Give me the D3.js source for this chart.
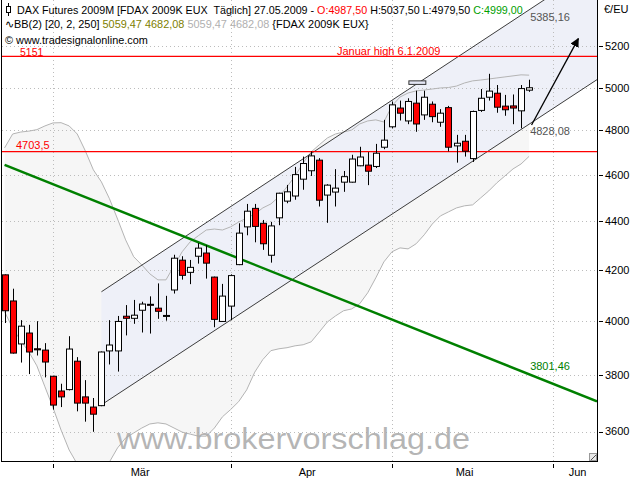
<!DOCTYPE html>
<html><head><meta charset="utf-8">
<script src="https://cdn.jsdelivr.net/npm/d3@7"></script>
<style>
body{margin:0;background:#fff}
svg{display:block}
text{font-family:"Liberation Sans",Arial,sans-serif;white-space:pre}
</style>
</head><body>
<svg id="c" width="640" height="480"></svg>
<script>
// ---------- DATA ----------
const dates = ["20.02","23.02","24.02","25.02","26.02","27.02",
 "02.03","03.03","04.03","05.03","06.03","09.03","10.03","11.03","12.03","13.03","16.03","17.03","18.03","19.03","20.03","23.03","24.03","25.03","26.03","27.03","30.03","31.03",
 "01.04","02.04","03.04","06.04","07.04","08.04","09.04","14.04","15.04","16.04","17.04","20.04","21.04","22.04","23.04","24.04","27.04","28.04","29.04","30.04",
 "04.05","05.05","06.05","07.05","08.05","11.05","12.05","13.05","14.05","15.05","18.05","19.05","20.05","21.05","22.05","25.05","26.05","27.05"];
const opens  = [4181,4078,3914,3955,3896,3891,3795,3742,3747,3850,3721,3685,3690,3888,3888,4019,4011,4042,4065,4050,4019,4121,4240,4191,4256,4269,4172,3999,4058,4222,4377,4455,4392,4260,4415,4486,4508,4581,4618,4665,4512,4525,4568,4568,4640,4643,4637,4723,4816,4903,4843,4926,4871,4921,4837,4905,4729,4750,4672,4892,4954,4973,4912,4913,4890,4987.5];
const highs  = [4183,4126,4004,3986,4000,3917,3797,3768,3943,3865,3781,3717,3886,4004,4020,4062,4082,4075,4096,4147,4098,4262,4256,4241,4310,4301,4174,4145,4183,4392,4474,4474,4406,4398,4522,4556,4635,4681,4704,4674,4559,4625,4617,4689,4725,4701,4738,4848,4934,4938,4949,4985,4985,4934,4898,4913,4779,4779,4891,4993,5066,5012,4965,4967,5012,5037.5];
const lows   = [3993,3878,3845,3803,3871,3791,3676,3685,3744,3670,3634,3599,3688,3838,3812,3946,3990,3957,3953,4009,4002,4107,4162,4144,4226,4166,3977,3997,4004,4220,4342,4313,4282,4230,4384,4477,4492,4535,4595,4463,4394,4463,4526,4566,4638,4555,4630,4714,4809,4845,4828,4793,4848,4837,4816,4704,4654,4681,4657,4885,4938,4881,4867,4828,4809,4979.5];
const closes = [4040,3880,3981,3884,3892,3847,3692,3721,3895,3699,3699,3660,3884,3910,3999,4011,4023,4066,4063,4038,4022,4248,4179,4211,4289,4228,4007,4097,4178,4351,4443,4379,4307,4381,4520,4526,4601,4650,4684,4490,4555,4542,4592,4670,4679,4616,4696,4755,4918,4879,4934,4829,4954,4863,4879,4723,4741,4705,4887,4949,4983,4907,4895,4903,4995,4999];
const bbUpper = [4720,4783,4792,4796,4803,4820,4834,4835,4820,4783,4707,4622,4569,4496,4410,4323,4254,4221,4185,4161,4161,4217,4274,4315,4340,4364,4368,4364,4377,4397,4414,4431,4457,4474,4505,4548,4595,4653,4702,4734,4765,4783,4792,4801,4829,4843,4848,4838,4913,4955,4974,4984,4988,4993,4998,5000,5007,5022,5032,5036,5041,5046,5051,5056,5061,5059.47];
const bbLower = [4036,3974,3926,3885,3833,3757,3683,3605,3537,3490,3463,3457,3470,3497,3544,3578,3595,3612,3626,3630,3626,3612,3598,3591,3584,3584,3612,3651,3676,3704,3746,3810,3856,3889,3896,3900,3907,3911,3922,3959,3997,4020,4040,4047,4067,4110,4169,4233,4274,4290,4286,4307,4344,4389,4423,4440,4457,4466,4470,4500,4530,4565,4595,4626,4648,4682.08];
const yTicks = [3600,3800,4000,4200,4400,4600,4800,5000,5200];
const monthNames = ["Mär","Apr","Mai","Jun"];
const monthTickBar = [6,28,48,68];        // bar position of first trading day
const monthLabelBar = [16.8,37.5,57,71];  // bar position of month label
// drawing objects (bar position, price)
const channelUpper = [[12,4114],[65,5385.16]];
const channelLower = [[12,3693],[65,4828.08]];
const greenLine = [[0,4644],[73.4,3705]];
const arrowPts = [[65.3,4824],[71.1,5239]];
const boxObj = [[50.1,5015],[52.2,5032]];
const hLevels = [{v:5151,label:"5151",text:"Januar high 6.1.2009"},{v:4703.5,label:"4703,5",text:""}];

// ---------- SCALES ----------
const P = {l:2, r:597, t:0, b:461};
const svg = d3.select("#c");
const x = d3.scaleLinear().domain([-0.32, 73.41]).range([P.l, P.r]);
const y = d3.scaleLog().domain([3500, 5436]).range([P.b, P.t]);
const data = dates.map((d,i)=>({d,i,o:opens[i],h:highs[i],l:lows[i],c:closes[i],u:bbUpper[i],lo:bbLower[i]}));

svg.append("rect").attr("width",640).attr("height",480).attr("fill","#fff");
const defs = svg.append("defs");
defs.append("clipPath").attr("id","clip").append("rect")
  .attr("x",P.l).attr("y",P.t).attr("width",P.r-P.l).attr("height",P.b-P.t);
defs.append("marker").attr("id","ah").attr("viewBox","0 0 10 10").attr("refX",9).attr("refY",5)
  .attr("markerWidth",9).attr("markerHeight",9).attr("orient","auto").attr("markerUnits","userSpaceOnUse")
  .append("path").attr("d","M0,0 L10,5 L0,10 Z").attr("fill","#000");

const g = svg.append("g").attr("clip-path","url(#clip)");

// Bollinger fill
g.append("path").datum(data)
  .attr("d", d3.area().x(d=>x(d.i)).y0(d=>y(d.lo)).y1(d=>y(d.u)))
  .attr("fill","#f6f6f6");

// channel fill
function extend(pts){
  const a=[x(pts[0][0]),y(pts[0][1])], b=[x(pts[1][0]),y(pts[1][1])];
  const s=(b[1]-a[1])/(b[0]-a[0]);
  return [a,[P.r, b[1]+s*(P.r-b[0])]];
}
const U = extend(channelUpper), L = extend(channelLower);
g.append("path").attr("d","M"+[U[0],U[1],L[1],L[0]].join("L")+"Z").attr("fill","#eef0f8");

// grid
g.selectAll(".hg").data(yTicks).join("line")
  .attr("x1",P.l).attr("x2",P.r).attr("y1",d=>Math.round(y(d))+0.5).attr("y2",d=>Math.round(y(d))+0.5)
  .attr("stroke","#bcbcbc").attr("stroke-dasharray","1,3");
g.selectAll(".vg").data(monthTickBar).join("line")
  .attr("x1",d=>Math.round(x(d))+0.5).attr("x2",d=>Math.round(x(d))+0.5).attr("y1",P.t).attr("y2",P.b)
  .attr("stroke","#bcbcbc").attr("stroke-dasharray","1,3");

// Bollinger lines
g.append("path").datum(data).attr("d", d3.line().x(d=>x(d.i)).y(d=>y(d.u))).attr("fill","none").attr("stroke","#b4b4b4");
g.append("path").datum(data).attr("d", d3.line().x(d=>x(d.i)).y(d=>y(d.lo))).attr("fill","none").attr("stroke","#b4b4b4");

// channel lines
[U,L].forEach(s=>g.append("line").attr("x1",s[0][0]).attr("y1",s[0][1]).attr("x2",s[1][0]).attr("y2",s[1][1])
  .attr("stroke","#3c3c3c").attr("stroke-width",1));

// horizontal levels
hLevels.forEach(h=>{
  const yy=y(h.v);
  g.append("line").attr("x1",P.l).attr("x2",P.r).attr("y1",yy).attr("y2",yy)
    .attr("stroke","#ff0000").attr("stroke-width",1.3);
});

// green trend line
g.append("line").attr("x1",x(greenLine[0][0])).attr("y1",y(greenLine[0][1]))
  .attr("x2",x(greenLine[1][0])).attr("y2",y(greenLine[1][1]))
  .attr("stroke","#008000").attr("stroke-width",2.5);

// box object
g.append("rect").attr("x",x(boxObj[0][0])).attr("y",y(boxObj[1][1]))
  .attr("width",x(boxObj[1][0])-x(boxObj[0][0])).attr("height",y(boxObj[0][1])-y(boxObj[1][1]))
  .attr("fill","#e4e6f4").attr("stroke","#333").attr("stroke-width",1);

// candles
const cg = g.append("g");
data.forEach(d=>{
  const cx=Math.round(x(d.i))+0.5;
  cg.append("line").attr("x1",cx).attr("x2",cx).attr("y1",y(d.h)).attr("y2",y(d.l)).attr("stroke","#000");
  const top=y(Math.max(d.o,d.c)), bot=y(Math.min(d.o,d.c));
  cg.append("rect").attr("x",cx-3).attr("y",top).attr("width",6).attr("height",Math.max(1,bot-top))
    .attr("fill",d.c<d.o?"#ff0000":"#ffffff").attr("stroke","#000").attr("stroke-width",1);
});

// arrow
g.append("line").attr("x1",x(arrowPts[0][0])).attr("y1",y(arrowPts[0][1]))
  .attr("x2",x(arrowPts[1][0])).attr("y2",y(arrowPts[1][1]))
  .attr("stroke","#000").attr("stroke-width",1.3).attr("marker-end","url(#ah)");

// object labels
const last = dates.length-1;
svg.append("text").attr("x",x(last)+1).attr("y",y(channelUpper[1][1])+11).text("5385,16")
  .attr("font-size",11).attr("fill","#555");
svg.append("text").attr("x",x(last)+1).attr("y",y(channelLower[1][1])+11).text("4828,08")
  .attr("font-size",11).attr("fill","#555");
const gAt = greenLine[0][1]*Math.pow(greenLine[1][1]/greenLine[0][1],(last-greenLine[0][0])/(greenLine[1][0]-greenLine[0][0]));
svg.append("text").attr("x",x(last)+1).attr("y",y(gAt)-4).text("3801,46")
  .attr("font-size",11).attr("fill","#008000");
svg.append("text").attr("x",20).attr("y",y(hLevels[0].v)).text(hLevels[0].label).attr("font-size",10.5).attr("fill","#ff0000");
svg.append("text").attr("x",337).attr("y",y(hLevels[0].v)-1.5).text(hLevels[0].text).attr("font-size",11).attr("fill","#ff0000");
svg.append("text").attr("x",16).attr("y",y(hLevels[1].v)-2.5).text(hLevels[1].label).attr("font-size",11).attr("fill","#ff0000");

// watermark
svg.append("text").attr("x",117).attr("y",449).text("www.brokervorschlag.de")
  .attr("font-size",30).attr("fill","#a8a8a8").attr("fill-opacity",0.85)
  .attr("textLength",353).attr("lengthAdjust","spacingAndGlyphs");

// borders / axes
svg.append("line").attr("x1",1.5).attr("x2",1.5).attr("y1",0).attr("y2",P.b).attr("stroke","#000");
svg.append("line").attr("x1",P.r+0.5).attr("x2",P.r+0.5).attr("y1",0).attr("y2",P.b+1).attr("stroke","#000");
svg.append("line").attr("x1",1).attr("x2",P.r+1).attr("y1",P.b+0.5).attr("y2",P.b+0.5).attr("stroke","#000");
svg.append("rect").attr("x",P.r-7.5).attr("y",P.b-7.5).attr("width",7).attr("height",7).attr("fill","#e8e8e8").attr("stroke","#999");
svg.append("line").attr("x1",P.r-6).attr("y1",P.b-1).attr("x2",P.r-1).attr("y2",P.b-6).attr("stroke","#555");

// right axis
const ra = svg.append("g");
ra.selectAll("line").data(yTicks).join("line")
  .attr("x1",P.r+2).attr("x2",P.r+6).attr("y1",d=>Math.round(y(d))+0.5).attr("y2",d=>Math.round(y(d))+0.5).attr("stroke","#000");
ra.selectAll("text").data(yTicks).join("text")
  .attr("x",P.r+8).attr("y",d=>y(d)).attr("dy","0.36em").attr("font-size",11).text(d=>d);
svg.append("text").attr("x",604).attr("y",13).attr("font-size",11).text("€/EU");

// bottom axis
svg.selectAll(".mt").data(monthTickBar).join("line")
  .attr("x1",d=>Math.round(x(d))+0.5).attr("x2",d=>Math.round(x(d))+0.5).attr("y1",P.b+3).attr("y2",P.b+7).attr("stroke","#000");
svg.selectAll(".ml").data(monthNames).join("text")
  .attr("x",(d,i)=>x(monthLabelBar[i])).attr("y",476).attr("text-anchor","middle").attr("font-size",11).text(d=>d);

// header (font size fitted to the reference widths)
function fit(t, target){
  const len = t.node().getComputedTextLength();
  t.attr("font-size", 11*target/len);
}
const hd = svg.append("g");
hd.append("line").attr("x1",8.5).attr("x2",8.5).attr("y1",3).attr("y2",16).attr("stroke","#000");
hd.append("rect").attr("x",6.5).attr("y",6.5).attr("width",4).attr("height",6).attr("fill","#fff").attr("stroke","#000");
const t1 = hd.append("text").attr("x",17).attr("y",14).attr("font-size",11);
t1.append("tspan").text("DAX Futures 2009M [FDAX 2009K EUX  Täglich] 27.05.2009 - ");
t1.append("tspan").attr("fill","#ff0000").text("O:4987,50");
t1.append("tspan").text(" H:5037,50 L:4979,50 ");
t1.append("tspan").attr("fill","#00a000").text("C:4999,00");
fit(t1,506);
const t2 = hd.append("text").attr("x",5).attr("y",28).attr("font-size",11);
t2.append("tspan").text("∿BB(2) [20, 2, 250] ");
t2.append("tspan").attr("fill","#808000").text("5059,47 4682,08");
t2.append("tspan").attr("fill","#b0b0b0").text(" 5059,47 4682,08");
t2.append("tspan").text(" {FDAX 2009K EUX}");
fit(t2,364);
const t3 = hd.append("text").attr("x",5).attr("y",44).attr("font-size",11).text("© www.tradesignalonline.com");
fit(t3,143);
</script>
</body></html>
